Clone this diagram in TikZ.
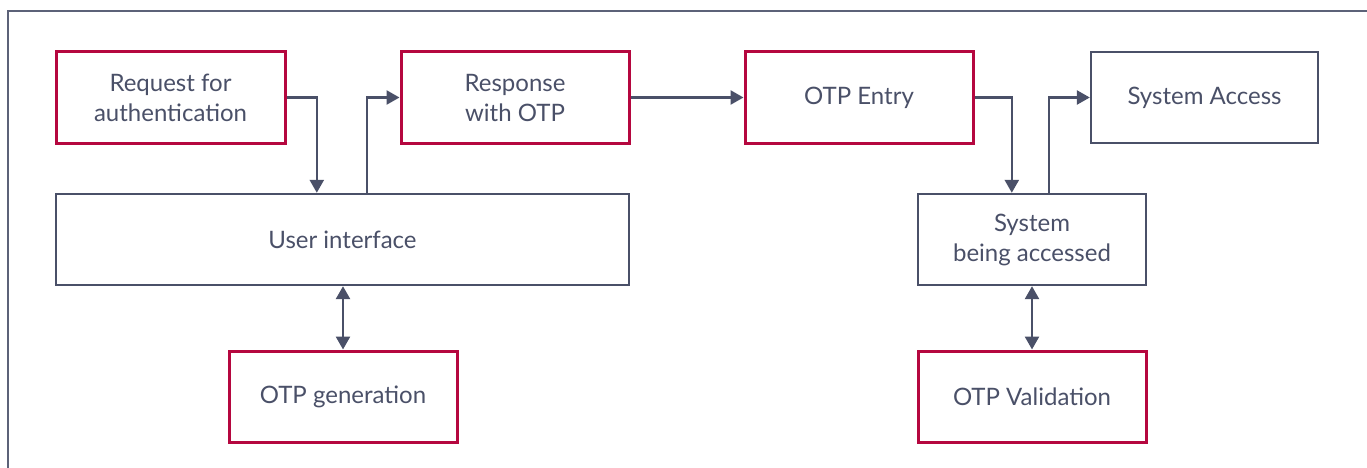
\documentclass[tikz,border=0pt]{standalone}
\usepackage{fontspec}
\setmainfont{Lato}
\usetikzlibrary{arrows.meta}
\definecolor{redb}{HTML}{B5073F}
\definecolor{grayb}{HTML}{4A5068}
\definecolor{framec}{HTML}{5C6278}
\tikzset{
  box/.style={draw=grayb, line width=2.4pt, minimum height=91pt, text=grayb,
    font=\fontsize{24}{30}\selectfont, align=center, inner sep=0pt, fill=white},
  redbox/.style={box, draw=redb, line width=3pt},
  conn/.style={draw=grayb, line width=2.6pt, -{Triangle[length=13pt,width=14pt]}},
  dconn/.style={draw=grayb, line width=2.6pt, {Triangle[length=13pt,width=14pt]}-{Triangle[length=13pt,width=14pt]}}
}
\begin{document}
\begin{tikzpicture}[x=1pt,y=-1pt]
\useasboundingbox (0,0) rectangle (1367,468);
\draw[framec, line width=2.2pt] (8,470) -- (8,11) -- (1370,11);

\node[redbox, minimum width=229pt] (req) at (170.5,97.5) {Request for\\authentication};
\node[redbox, minimum width=228pt] (resp) at (515,97.5) {Response\\with OTP};
\node[redbox, minimum width=228pt] (entry) at (859,97.5) {OTP Entry};
\node[box, minimum width=227pt] (access) at (1204.5,97.5) {System Access};
\node[box, minimum width=573pt] (ui) at (342.5,239.5) {User interface};
\node[box, minimum width=228pt] (sba) at (1032,239.5) {System\\being accessed};
\node[redbox, minimum width=228pt] (gen) at (343,396.5) {OTP generation};
\node[redbox, minimum width=228pt] (val) at (1032,396.5) {OTP Validation};

\path (ui.north west) ++(262,0) coordinate (uiin);
\path (ui.north west) ++(312,0) coordinate (uiout);
\path (sba.north west) ++(95,0) coordinate (sbain);
\path (sba.north west) ++(132,0) coordinate (sbaout);

\draw[conn] (req.east) -| (uiin);
\draw[conn] (uiout) |- (resp.west);
\draw[conn] (resp.east) -- (entry.west);
\draw[conn] (entry.east) -| (sbain);
\draw[conn] (sbaout) |- (access.west);
\draw[dconn] (ui.south -| gen.north) -- (gen.north);
\draw[dconn] (sba.south) -- (val.north);
\end{tikzpicture}
\end{document}
